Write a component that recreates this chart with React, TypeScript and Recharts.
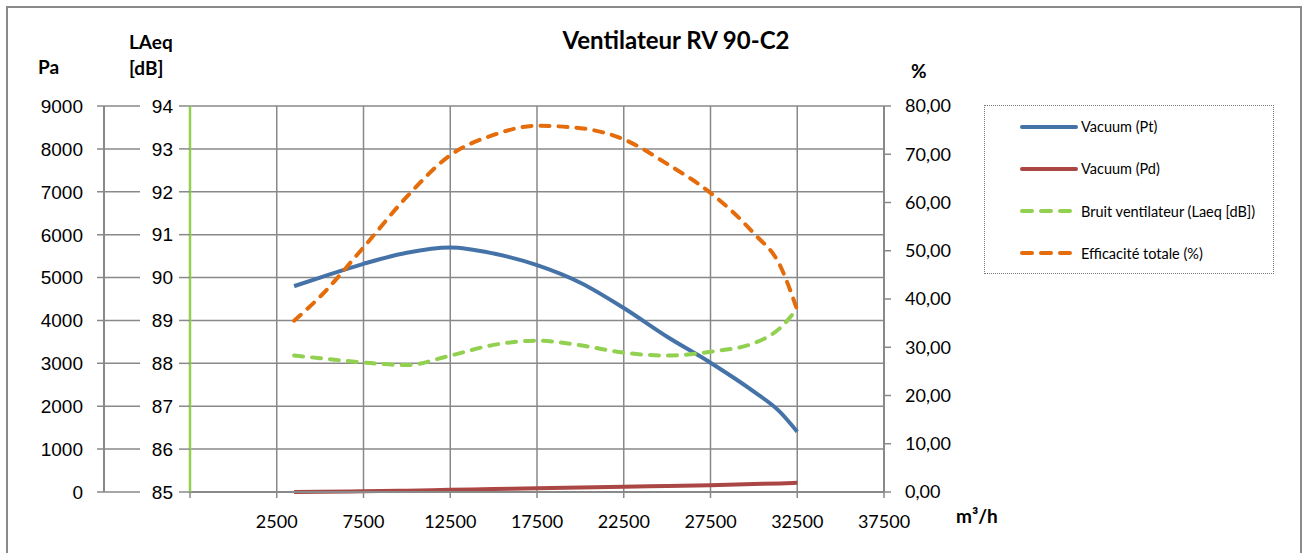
import React from "react";
import {
  CartesianGrid,
  ComposedChart,
  Line,
  XAxis,
  YAxis,
} from "recharts";

const flow = [3500, 5000, 7500, 10000, 12500, 15000, 17500, 20000, 22500, 25000, 27500, 30000, 31500, 32500];
const vacuumPt = [4800, 5000, 5320, 5580, 5700, 5560, 5290, 4880, 4290, 3620, 3015, 2340, 1870, 1406];
const vacuumPd = [0, 5, 15, 30, 50, 70, 90, 105, 120, 140, 160, 185, 200, 215];
const bruit = [88.18, 88.12, 88.02, 87.96, 88.18, 88.43, 88.53, 88.42, 88.25, 88.18, 88.27, 88.47, 88.82, 89.28];
const efficacite = [35.5, 40.5, 50.7, 61.2, 69.8, 74.0, 75.9, 75.4, 73.1, 68.0, 62.0, 53.6, 47.0, 37.7];

const xTicks = [-2500, 2500, 7500, 12500, 17500, 22500, 27500, 32500, 37500];
const paTicks = [0, 1000, 2000, 3000, 4000, 5000, 6000, 7000, 8000, 9000];
const dbTicks = [85, 86, 87, 88, 89, 90, 91, 92, 93, 94];
const pctTicks = [0, 10, 20, 30, 40, 50, 60, 70, 80];

const series = [
  { key: "pt", name: "Vacuum (Pt)", color: "#4573A7", dash: undefined as string | undefined },
  { key: "pd", name: "Vacuum (Pd)", color: "#AA4643", dash: undefined as string | undefined },
  { key: "db", name: "Bruit ventilateur (Laeq [dB])", color: "#92D050", dash: "9 9" },
  { key: "eff", name: "Efficacité totale (%)", color: "#E46C0A", dash: "9 9" },
];

const data = flow.map((q, i) => ({
  q,
  pt: vacuumPt[i],
  pd: vacuumPd[i],
  db: bruit[i],
  eff: efficacite[i],
}));

const GRID = "#898989";
const ARIAL = "'Liberation Sans', Arial, sans-serif";
const CALIBRI = "Lato, 'Open Sans', sans-serif";

function PaTick(props: any) {
  const { x, y, payload } = props;
  return (
    <g>
      <line x1={x + 14} x2={x + 57} y1={y} y2={y} stroke={GRID} strokeWidth={1.5} />
      <text x={x} y={y} dy="0.36em" textAnchor="end" fontFamily={ARIAL} fontSize={19} fill="#000">
        {payload.value}
      </text>
    </g>
  );
}

function Legend() {
  return (
    <div
      style={{
        position: "absolute",
        left: 984,
        top: 105,
        width: 288,
        height: 167,
        border: "1px dotted #777",
        fontFamily: CALIBRI,
        fontSize: 14.5,
      }}
    >
      {series.map((s, i) => (
        <div
          key={s.key}
          style={{ position: "absolute", left: 34, top: 12 + i * 42.3, display: "flex", alignItems: "center", whiteSpace: "nowrap" }}
        >
          <svg width={62} height={10}>
            <line
              x1={3}
              x2={57}
              y1={5}
              y2={5}
              stroke={s.color}
              strokeWidth={4}
              strokeLinecap="round"
              strokeDasharray={s.dash ? "10 9" : undefined}
            />
          </svg>
          <span>{s.name}</span>
        </div>
      ))}
    </div>
  );
}

export default function App() {
  return (
    <div style={{ position: "absolute", left: 0, top: 0, width: 1308, height: 553, background: "#fff", overflow: "hidden" }}>
      <div style={{ position: "absolute", left: 6, top: 6, width: 1292, height: 560, border: "2px solid #8a8a8a" }} />
      <ComposedChart
        width={1308}
        height={553}
        data={data}
        margin={{ top: 106, right: 324, bottom: 21, left: 10 }}
        style={{ position: "absolute", left: 0, top: 0 }}
      >
        <CartesianGrid yAxisId="pa" stroke={GRID} strokeWidth={1.5} />
        <XAxis
          dataKey="q"
          type="number"
          domain={[-2500, 37500]}
          ticks={xTicks}
          height={40}
          tickFormatter={(v: number) => (v < 0 ? "" : String(v))}
          axisLine={{ stroke: GRID, strokeWidth: 2 }}
          tickLine={{ stroke: GRID, strokeWidth: 1.5 }}
          tickSize={6}
          tickMargin={17}
          tick={{ fill: "#000", fontFamily: CALIBRI, fontSize: 18 }}
        />
        <YAxis
          yAxisId="db"
          orientation="left"
          width={86}
          domain={[85, 94]}
          ticks={dbTicks}
          axisLine={{ stroke: "#92D050", strokeWidth: 2.5 }}
          tickLine={{ stroke: GRID, strokeWidth: 1.5 }}
          tickSize={11}
          tickMargin={6}
          tick={{ fill: "#000", fontFamily: ARIAL, fontSize: 19 }}
        />
        <YAxis
          yAxisId="pa"
          orientation="left"
          width={94}
          domain={[0, 9000]}
          ticks={paTicks}
          axisLine={{ stroke: GRID, strokeWidth: 2 }}
          tickLine={false}
          tickSize={7}
          tickMargin={14}
          tick={<PaTick />}
        />
        <YAxis
          yAxisId="pct"
          orientation="right"
          width={100}
          domain={[0, 80]}
          ticks={pctTicks}
          tickFormatter={(v: number) => v.toFixed(2).replace(".", ",")}
          axisLine={{ stroke: GRID, strokeWidth: 2 }}
          tickLine={{ stroke: GRID, strokeWidth: 1.5 }}
          tickSize={7}
          tickMargin={14}
          tick={{ fill: "#000", fontFamily: CALIBRI, fontSize: 18 }}
        />
        <Line yAxisId="pa" dataKey="pt" name={series[0].name} type="monotone" stroke={series[0].color} strokeWidth={4} dot={false} isAnimationActive={false} />
        <Line yAxisId="pa" dataKey="pd" name={series[1].name} type="monotone" stroke={series[1].color} strokeWidth={4} dot={false} isAnimationActive={false} />
        <Line yAxisId="db" dataKey="db" name={series[2].name} type="monotone" stroke={series[2].color} strokeWidth={4} strokeDasharray={series[2].dash} strokeLinecap="round" dot={false} isAnimationActive={false} />
        <Line yAxisId="pct" dataKey="eff" name={series[3].name} type="monotone" stroke={series[3].color} strokeWidth={4} strokeDasharray={series[3].dash} strokeLinecap="round" dot={false} isAnimationActive={false} />
      </ComposedChart>
      <svg width={1308} height={553} style={{ position: "absolute", left: 0, top: 0, pointerEvents: "none" }}>
        <g fontFamily={CALIBRI} fontWeight={700} fill="#000">
          <text x={676} y={49} textAnchor="middle" fontSize={24}>Ventilateur RV 90-C2</text>
          <text x={38} y={74} fontSize={19}>Pa</text>
          <text x={129} y={49} fontSize={19}>LAeq</text>
          <text x={129} y={75} fontSize={19}>[dB]</text>
          <text x={911} y={78} fontSize={19}>%</text>
          <text x={956} y={523} fontSize={19}>m³/h</text>
        </g>
      </svg>
      <Legend />
    </div>
  );
}
